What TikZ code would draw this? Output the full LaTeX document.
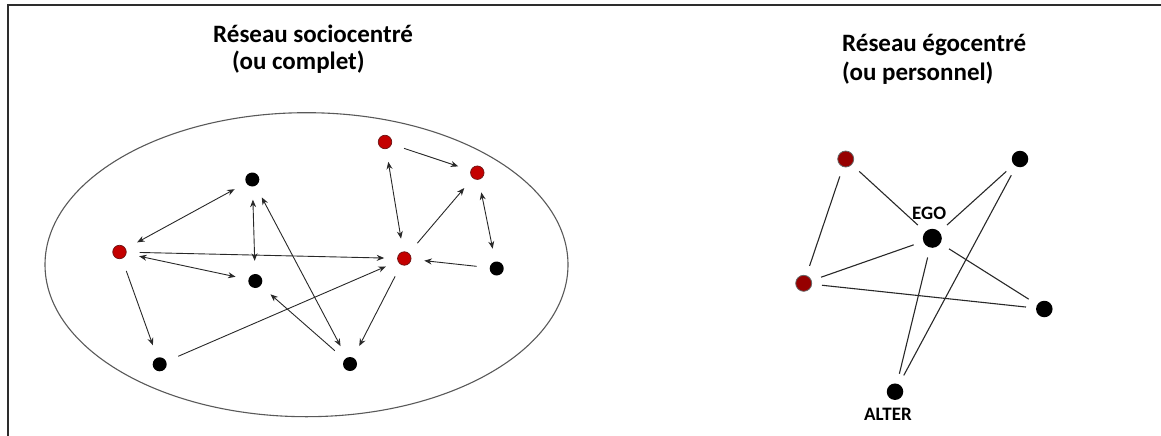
\documentclass[tikz,border=0pt]{standalone}
\usepackage{fontspec}
\setmainfont{Carlito}
\usetikzlibrary{arrows.meta}
\definecolor{lred}{RGB}{196,0,0}
\definecolor{lredb}{RGB}{110,20,20}
\definecolor{rred}{RGB}{150,0,0}
\definecolor{edgec}{RGB}{40,40,40}
\definecolor{framec}{RGB}{45,45,45}
\tikzset{
  dotL/.style={circle,inner sep=0pt,minimum size=14pt,fill=black},
  redL/.style={circle,inner sep=0pt,minimum size=13.5pt,fill=lred,draw=lredb,line width=0.7pt},
  dotR/.style={circle,inner sep=0pt,minimum size=16.5pt,fill=black},
  redR/.style={circle,inner sep=0pt,minimum size=16pt,fill=rred,draw=black!60,line width=0.8pt},
  arr/.style={draw=edgec,line width=0.9pt,shorten >=13pt,shorten <=13pt,
    arrows={-Stealth[length=7.5pt,width=6pt]}},
  darr/.style={draw=edgec,line width=0.9pt,shorten >=13pt,shorten <=13pt,
    arrows={Stealth[length=7.5pt,width=6pt]-Stealth[length=7.5pt,width=6pt]}},
  lnk/.style={draw=edgec,line width=1.1pt,shorten >=10pt,shorten <=10pt},
  ttl/.style={font=\bfseries\fontsize{25}{30}\selectfont,inner sep=0pt,anchor=base west},
  lbl/.style={font=\bfseries\fontsize{19}{22}\selectfont,inner sep=0pt,anchor=base west}
}
\begin{document}
\begin{tikzpicture}[x=1pt,y=-1pt]
\useasboundingbox (0,0) rectangle (1161,436);
% frame
\draw[framec,line width=2pt] (7.5,436) -- (7.5,5.5) -- (1161,5.5);
% titles
\node[ttl] (t1) at (213,43) {Réseau sociocentré};
\node[ttl] (t2) at (232,70) {(ou complet)};
\node[ttl] (t3) at (842,52) {Réseau égocentré};
\node[ttl] (t4) at (842,81) {(ou personnel)};
% ellipse
\draw[black!65,line width=1.1pt] (306.5,264.7) ellipse [x radius=261.5, y radius=152];
% left nodes
\node[redL] (A) at (119.5,252) {};
\node[dotL] (B) at (252.3,179.5) {};
\node[dotL] (C) at (255.3,281) {};
\node[dotL] (D) at (159.7,364.3) {};
\node[dotL] (E) at (350,364) {};
\node[redL] (F) at (404.3,258.5) {};
\node[redL] (G) at (385,142) {};
\node[redL] (H) at (477.3,172.7) {};
\node[dotL] (I) at (496.7,268.5) {};
% left edges
\draw[darr] (A) -- (B);
\draw[arr] (A) -- (F);
\draw[darr] (A) -- (C);
\draw[arr] (A) -- (D);
\draw[darr] (B) -- (C);
\draw[darr] (B) -- (E);
\draw[arr] (D) -- (F);
\draw[arr] (E) -- (C);
\draw[arr] (F) -- (E);
\draw[arr] (F) -- (H);
\draw[arr] (G) -- (H);
\draw[darr] (G) -- (F);
\draw[darr] (H) -- (I);
\draw[arr] (I) -- (F);
% right nodes
\node[redR] (R1) at (845.7,159) {};
\node[dotR] (K) at (1020,159) {};
\node[dotR,minimum size=19pt] (EGO) at (932.3,238.3) {};
\node[redR] (R2) at (803.7,283.3) {};
\node[dotR] (M) at (1044.3,309) {};
\node[dotR] (AL) at (895,391.7) {};
\node[lbl] (egol) at (912,219) {EGO};
\node[lbl] (altl) at (864,420) {ALTER};
% right edges
\draw[lnk] (R1) -- (R2);
\draw[lnk] (R1) -- (EGO);
\draw[lnk] (K) -- (EGO);
\draw[lnk] (K) -- (AL);
\draw[lnk] (EGO) -- (R2);
\draw[lnk] (EGO) -- (M);
\draw[lnk] (EGO) -- (AL);
\draw[lnk] (R2) -- (M);
\end{tikzpicture}
\end{document}
